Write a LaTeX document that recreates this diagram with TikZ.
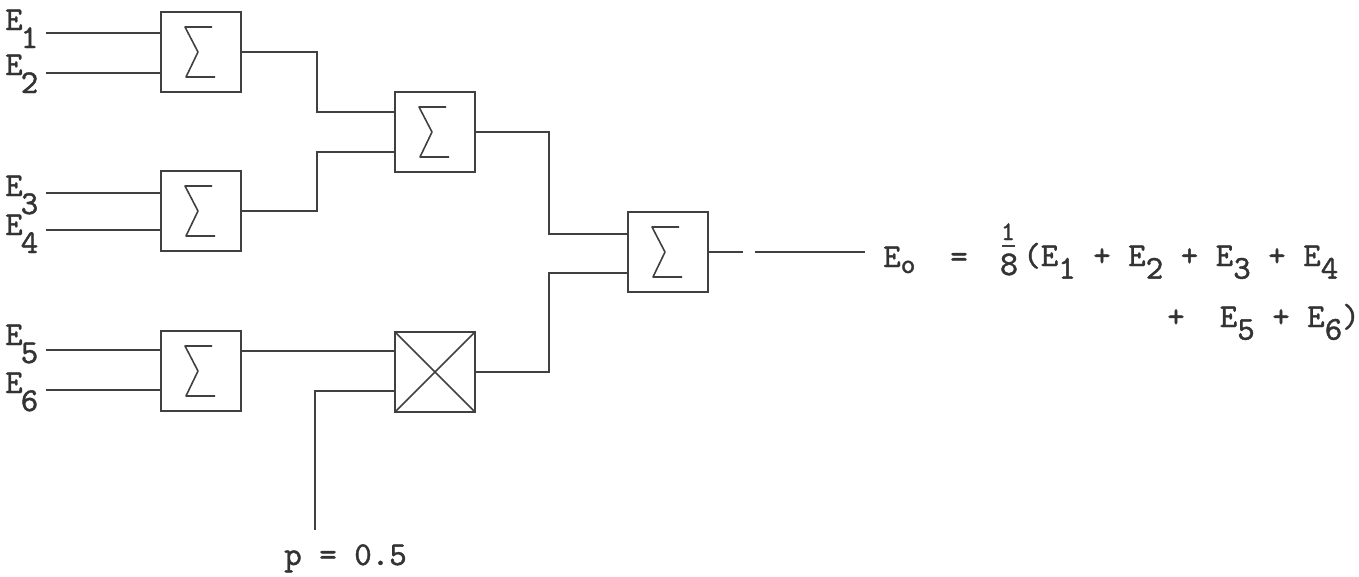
\documentclass[tikz,border=0pt]{standalone}
\usepackage{fontspec}
\usetikzlibrary{calc}
\newfontfamily\tw{lmmono10-regular}[Extension=.otf, FakeBold=1.2]
\newcommand{\lsub}[1]{\kern-1.5pt\raisebox{-13.5pt}{#1}}
\newcommand{\fsub}[1]{\raisebox{-9.5pt}{#1}}
\tikzset{
  wire/.style={line width=1.6pt, draw=black!75},
  blk/.style={draw=black!75, line width=1.8pt, minimum width=60pt, minimum height=60pt, inner sep=0pt},
  sumblk/.style={blk, path picture={\draw[line width=1.2pt, draw=black!75, line join=round]
      ([shift={(11,-25)}]path picture bounding box.center) --
      ([shift={(-16,-25)}]path picture bounding box.center) --
      ([shift={(-3,0)}]path picture bounding box.center) --
      ([shift={(-15,25)}]path picture bounding box.center) --
      ([shift={(14,25)}]path picture bounding box.center);}},
  mulblk/.style={blk, path picture={\draw[line width=1.2pt, draw=black!75]
      (path picture bounding box.north west) -- (path picture bounding box.south east)
      (path picture bounding box.north east) -- (path picture bounding box.south west);}},
  txt/.style={font=\fontsize{25}{28}\selectfont\tw, text=black!80, inner sep=0pt, anchor=base west},
}
\begin{document}
\begin{tikzpicture}[x=0.75pt,y=-0.75pt]
\useasboundingbox (0,0) rectangle (1359,576);

% blocks
\node[sumblk] (s1) at (201,52) {};
\node[sumblk] (s2) at (201,211) {};
\node[sumblk] (s3) at (435,132) {};
\node[sumblk] (s4) at (201,371) {};
\node[mulblk] (m) at (435,372) {};
\node[sumblk] (s5) at (668,252) {};

% input labels
\node[txt] (e1) at (5,30) {E\lsub{1}};
\node[txt] (e2) at (5,75) {E\lsub{2}};
\node[txt] (e3) at (5,196) {E\lsub{3}};
\node[txt] (e4) at (5,235) {E\lsub{4}};
\node[txt] (e5) at (5,345) {E\lsub{5}};
\node[txt] (e6) at (5,393) {E\lsub{6}};

% input wires
\coordinate (in1) at (46,33);
\coordinate (in2) at (46,73);
\coordinate (in3) at (46,193);
\coordinate (in4) at (46,230);
\coordinate (in5) at (46,350);
\coordinate (in6) at (46,390);
\draw[wire] (in1) -- (in1 -| s1.west);
\draw[wire] (in2) -- (in2 -| s1.west);
\draw[wire] (in3) -- (in3 -| s2.west);
\draw[wire] (in4) -- (in4 -| s2.west);
\draw[wire] (in5) -- (in5 -| s4.west);
\draw[wire] (in6) -- (in6 -| s4.west);

% inner connections
\coordinate (s3a) at ($(s3.west)+(0,-20)$);
\coordinate (s3b) at ($(s3.west)+(0,20)$);
\coordinate (s5a) at ($(s5.west)+(0,-18)$);
\coordinate (s5b) at ($(s5.west)+(0,21)$);
\coordinate (s4o) at ($(s4.east)+(0,-20)$);
\coordinate (mb) at ($(m.west)+(0,19)$);
\coordinate (pb) at (315,530);
\coordinate (oe) at (865,252);

\draw[wire] (s1.east) -- ++(75,0) |- (s3a);
\draw[wire] (s2.east) -- ++(75,0) |- (s3b);
\draw[wire] (s3.east) -- ++(73,0) |- (s5a);
\draw[wire] (m.east) -- ++(73,0) |- (s5b);
\draw[wire] (s4o) -- (s4o -| m.west);
\draw[wire] (pb) |- (mb);
\draw[wire, dash pattern=on 25pt off 9pt on 300pt] (s5.east) -- (oe);

% p label
\node[txt] (p) at (284,565) {p = 0.5};

% formula
\node[txt] (eo) at (883,267) {E\raisebox{-4.5pt}{\fontsize{21}{22}\selectfont o}};
\node[txt] (eq) at (950,267) {=};
\node[txt, anchor=base, font=\fontsize{20}{22}\selectfont\tw] (f1) at (1008,240) {1};
\node[txt, anchor=base, font=\fontsize{26}{28}\selectfont\tw] (f8) at (1009,275) {8};
\draw[line width=1.2pt, draw=black!75] (1002,246) -- (1015,246);
\node[txt] (l1) at (1023,266) {(E\fsub{1} + E\fsub{2} + E\fsub{3} + E\fsub{4}};
\node[txt] (l2) at (1167,327) {+~~E\fsub{5} + E\fsub{6})};
\end{tikzpicture}
\end{document}
